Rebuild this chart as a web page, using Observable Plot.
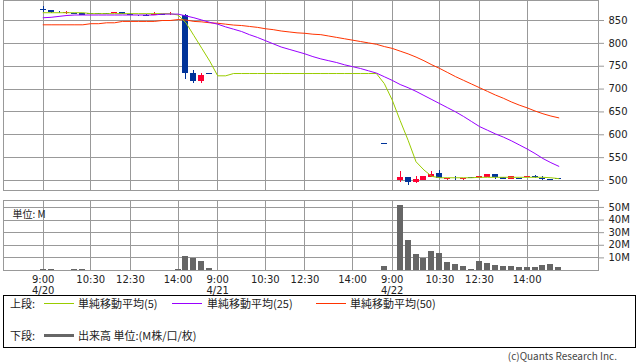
<!DOCTYPE html>
<html><head><meta charset="utf-8">
<script src="https://cdn.jsdelivr.net/npm/d3@7"></script>
<script src="https://cdn.jsdelivr.net/npm/@observablehq/plot@0.6"></script>
<style>
html,body{margin:0;padding:0;background:#fff;}
body{width:638px;height:362px;position:relative;overflow:hidden;font-family:"DejaVu Sans",sans-serif;}
#top{position:absolute;left:0;top:0;}
#vol{position:absolute;left:0;top:195px;}
#top svg text,#vol svg text{fill:#222;}
#legend{position:absolute;left:3px;top:295px;width:633px;height:53px;border:1px solid #000;box-sizing:border-box;}
.lg{position:absolute;font-family:"Noto Sans CJK JP",sans-serif;font-size:11px;line-height:14px;height:14px;color:#222;white-space:nowrap;}
.sw{position:absolute;height:1px;width:30px;}
#copy{position:absolute;right:21px;top:349px;font-family:"Noto Sans CJK JP",sans-serif;font-size:10px;line-height:14px;color:#444;white-space:nowrap;}
</style></head>
<body>
<div id="top"></div>
<div id="vol"></div>
<div id="legend"></div>
<div id="copy">(c)Quants Research Inc.</div>
<script>
// ---- data (15-minute slots, 22 per day, 3 days) ----
const slotTimes = ["9:00","9:15","9:30","9:45","10:00","10:15","10:30","10:45","11:00","11:15","11:30","12:30","12:45","13:00","13:15","13:30","13:45","14:00","14:15","14:30","14:45","15:00"];
const days = ["4/20","4/21","4/22"];
const tickSlots = [0,6,11,17,22,28,33,39,44,50,55,61];
const tickLabels = ["9:00\n4/20","10:30","12:30","14:00","9:00\n4/21","10:30","12:30","14:00","9:00\n4/22","10:30","12:30","14:00"];
const priceTicks = [500,550,600,650,700,750,800,850];
const volTicks = [10,20,30,40,50];

const _ = null;
const open  = [874,872,868,866,866,866,865,865,865,865,867,864,862,862,862,863,863,862,861,733,717,734,
               _,_,_,_,_,_,_,_,_,_,_,_,_,_,_,_,_,_,_,_,_,582,
               _,500,506,495,500,507,515,502,505,502,506,505,506,513,506,502,504,506,509,504,502,504];
const high  = [880,872,869,869,866,866,866,866,866,867,867,865,862,863,867,864,867,862,863,740,733,734,
               _,_,_,_,_,_,_,_,_,_,_,_,_,_,_,_,_,_,_,_,_,582,
               _,520,506,509,509,520,522,505,509,505,506,509,513,513,506,508,505,509,510,509,502,504];
const low   = [867,866,866,863,863,860,864,864,864,865,863,863,859,860,861,862,861,859,720,713,713,734,
               _,_,_,_,_,_,_,_,_,_,_,_,_,_,_,_,_,_,_,_,_,582,
               _,496,488,493,500,507,504,500,501,500,505,505,506,502,502,502,503,506,505,500,500,504];
const close = [874,867,867,867,863,862,865,865,865,867,863,864,860,862,864,863,864,860,733,716,730,734,
               _,_,_,_,_,_,_,_,_,_,_,_,_,_,_,_,_,_,_,_,_,582,
               _,506,496,502,509,513,505,505,504,505,505,509,513,506,502,508,504,509,506,502,500,504];
const volume = [0.5,0.4,0.3,0.3,0.4,0.4,0.3,0.3,0.3,0.3,0.3,0.2,0.3,0.3,0.3,0.3,0.3,0.4,11.3,9.5,6.8,1.6,
               0,0,0,0,0,0,0,0,0,0,0,0,0,0,0,0,0,0,0,0,0,3.4,
               0,51.6,23.5,12.4,9.2,14.8,13.2,6.0,4.4,2.9,0.5,6.8,5.2,3.9,2.9,2.9,2.1,2.1,2.1,3.7,4.4,2.1];
const sma5  = [867,867,867,867,867,867,865,865,865,865,865,865,865,865,865,865,865,862,845,817,789,761,
               729,729,734,734,734,734,734,734,734,734,734,734,734,734,734,734,734,734,734,734,734,712,
               676,631,588,541,523,509,506,506,506,506,506,507,507,507,507,507,507,507,507,507,506,504];
const sma25 = [856,857,859,861,862,862,862,862,862,862,862,862,862,862,862,864,864,864,860,856,851,846,
               842,836,831,826,819,813,806,799,792,787,782,777,771,766,762,758,753,749,745,740,735,727,
               719,710,703,695,686,677,668,659,650,640,629,618,610,602,595,587,578,569,559,548,539,531];
const sma50 = [840.6,840.6,840.6,840.6,840.6,840.6,843,843,845,845,848,848,848,848,848,850,850,852,851,848,847,845,
               844,842,840,839,837,835,832,830,827,825,823,822,820,819,816,813,810,807,804,801,798,793,
               789,783,777,770,762,753,745,736,727,719,711,703,695,687,680,672,665,659,652,646,641,637];

const BLUE = "#003399", RED = "#ff0033";
const GREEN = "#99cc00", PURPLE = "#9900ff", ORANGE = "#ff3300", GRID = "#999";

// ---- derived tables ----
const idx = d3.range(open.length);
const candles = idx.filter(i => open[i] != null).map(i => ({i, o: open[i], h: high[i], l: low[i], c: close[i]}));
const col = d => d.c > d.o ? RED : BLUE;
const half = 0.38;
const tickData = tickSlots.map((i, k) => ({i, label: tickLabels[k]}));
const series = arr => idx.map(i => ({i, v: arr[i]}));
const vols = idx.filter(i => volume[i] > 0).map(i => ({i, v: volume[i]}));
const crisp = {shapeRendering: "crispEdges"};

const xScale = {type: "linear", domain: [-5, 70], axis: null};

const priceChart = Plot.plot({
  width: 638, height: 191,
  marginLeft: 3, marginRight: 40, marginTop: 0, marginBottom: 1,
  x: xScale,
  y: {domain: [478.125, 893.75], axis: "right", ticks: priceTicks, tickSize: 5, tickPadding: 5, tickFormat: d => String(d), label: null},
  color: {type: "identity"},
  style: {fontFamily: "DejaVu Sans", fontSize: "10px", color: GRID, background: "transparent", overflow: "visible"},
  marks: [
    Plot.ruleY(priceTicks, {stroke: GRID, ...crisp}),
    Plot.ruleX(tickSlots, {stroke: GRID, ...crisp}),
    Plot.frame({stroke: GRID, ...crisp}),
    Plot.ruleX(candles, {x: "i", y1: "l", y2: "h", stroke: col, ...crisp}),
    Plot.rect(candles.filter(d => d.o !== d.c), {x1: d => d.i - half, x2: d => d.i + half, y1: "o", y2: "c", fill: col, ...crisp}),
    Plot.ruleY(candles.filter(d => d.o === d.c), {x1: d => d.i - half, x2: d => d.i + half, y: "c", stroke: col, ...crisp}),
    Plot.line(series(sma50), {x: "i", y: "v", stroke: ORANGE, strokeWidth: 1}),
    Plot.line(series(sma5), {x: "i", y: "v", stroke: GREEN, strokeWidth: 1}),
    Plot.line(series(sma25), {x: "i", y: "v", stroke: PURPLE, strokeWidth: 1})
  ]
});
document.getElementById("top").appendChild(priceChart);

const volChart = Plot.plot({
  width: 638, height: 106,
  marginLeft: 3, marginRight: 40, marginTop: 5, marginBottom: 31,
  x: xScale,
  y: {domain: [0, 55.5], axis: "right", ticks: volTicks, tickSize: 5, tickPadding: 5, tickFormat: d => d + "M", label: null},
  style: {fontFamily: "DejaVu Sans", fontSize: "10px", color: GRID, background: "transparent", overflow: "visible"},
  marks: [
    Plot.ruleY(volTicks, {stroke: GRID, ...crisp}),
    Plot.ruleX(tickSlots, {stroke: GRID, ...crisp}),
    Plot.frame({stroke: GRID, ...crisp}),
    Plot.rectY(vols, {x1: d => d.i - half, x2: d => d.i + half, y: "v", fill: "#666", ...crisp}),
    Plot.text(tickData, {x: "i", text: "label", frameAnchor: "bottom", lineAnchor: "top", dy: 4, lineHeight: 1.13, fill: "#222"}),
    Plot.text(["単位: M"], {frameAnchor: "top-left", text: d => d, dx: 9, dy: 10, textAnchor: "start", fontFamily: "Noto Sans CJK JP", fill: "#222"})
  ]
});
document.getElementById("vol").appendChild(volChart);

// ---- legend ----
const lg = document.getElementById("legend");
const legendItems = [
  {row: 0, label: "上段:", x: 6},
  {row: 0, sw: GREEN, x: 40}, {row: 0, label: "単純移動平均(5)", x: 74},
  {row: 0, sw: PURPLE, x: 168}, {row: 0, label: "単純移動平均(25)", x: 203},
  {row: 0, sw: ORANGE, x: 312}, {row: 0, label: "単純移動平均(50)", x: 346},
  {row: 1, label: "下段:", x: 6},
  {row: 1, sw: "#666", x: 40, thick: 3}, {row: 1, label: "出来高 単位:(M株/口/枚)", x: 74}
];
const rowCenter = [7, 39];
for (const it of legendItems) {
  const el = document.createElement("div");
  if (it.label) {
    el.className = "lg"; el.textContent = it.label;
    el.style.left = it.x + "px"; el.style.top = (rowCenter[it.row] - 7) + "px";
  } else {
    el.className = "sw"; el.style.background = it.sw;
    const t = it.thick || 1;
    el.style.height = t + "px";
    el.style.left = it.x + "px"; el.style.top = (rowCenter[it.row] - Math.floor(t / 2)) + "px";
  }
  lg.appendChild(el);
}
</script>
</body></html>
